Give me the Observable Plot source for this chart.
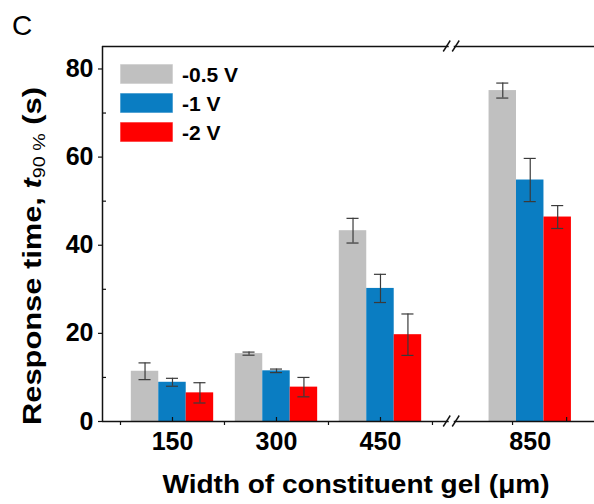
<!DOCTYPE html>
<html><head><meta charset="utf-8">
<script src="https://cdn.jsdelivr.net/npm/d3@7"></script>
<script src="https://cdn.jsdelivr.net/npm/@observablehq/plot@0.6"></script>
<style>body{margin:0;background:#fff}</style>
</head><body><div id="chart"></div>
<script>
// ---- data ----
const widths = ["150", "300", "450", "850"];
const series = ["-0.5 V", "-1 V", "-2 V"];
const colors = ["#c0c0c0", "#0a7dc2", "#ff0000"];
const mean05 = [11.4, 15.4, 43.3, 75.1];
const mean1  = [8.9, 11.5, 30.2, 54.8];
const mean2  = [6.5, 7.8, 19.7, 46.4];
const err05  = [1.9, 0.35, 2.8, 1.7];
const err1   = [0.9, 0.4, 3.2, 4.9];
const err2   = [2.3, 2.2, 4.7, 2.6];
const yTicks = [0, 20, 40, 60, 80];
const yMinor = [10, 30, 50, 70];

// ---- layout helpers ----
const GAP = 0.44, BW = 0.264, CAP = 0.058, BREAK = 2.69;
const YMAX = 85.1, XMIN = -0.673, XMAX = 4.058;
const pos = widths.map((w, i) => i < 3 ? i : i + GAP);
const majorX = [pos[0], pos[1], pos[2], pos[3] + 0.35];
const minorX = [pos[0] - 0.5, pos[0] + 0.5, pos[1] + 0.5, pos[2] + 0.5, pos[3] - 0.17];

const meansBy = [mean05, mean1, mean2];
const errsBy = [err05, err1, err2];
const rows = [];
widths.forEach((w, i) => series.forEach((s, j) => {
  const x1 = pos[i] + (j - 1.5) * BW;
  const m = meansBy[j][i], e = errsBy[j][i];
  rows.push({w, s, x1, x2: x1 + BW, xc: x1 + BW / 2, m, lo: m - e, hi: m + e});
}));

const FONT = "'Liberation Sans', Arial, sans-serif";

function breaks(index, scales) {
  const g = d3.create("svg:g");
  const bx = scales.x(BREAK);
  for (const y of [scales.y(0), scales.y(YMAX)]) {
    g.append("rect").attr("x", bx - 3).attr("y", y - 3).attr("width", 5).attr("height", 6).attr("fill", "white");
    for (const dx of [-5, 4]) {
      g.append("line")
        .attr("x1", bx + dx - 3.5).attr("y1", y + 5.5)
        .attr("x2", bx + dx + 3.5).attr("y2", y - 5.5)
        .attr("stroke", "#111").attr("stroke-width", 1.4);
    }
  }
  return g.node();
}

function legend() {
  const g = d3.create("svg:g").attr("text-anchor", "start");
  series.forEach((s, j) => {
    const y = 64 + j * 29;
    g.append("rect").attr("x", 120).attr("y", y).attr("width", 53).attr("height", 20)
      .attr("fill", colors[j]).attr("stroke", "rgba(255,255,255,0.6)").attr("stroke-width", 1);
    g.append("text").attr("x", 182).attr("y", y + 17.5).attr("font-size", 21)
      .attr("font-weight", "bold").attr("font-family", FONT).attr("fill", "#000").text(s);
  });
  return g.node();
}

function labels() {
  const g = d3.create("svg:g").attr("font-family", FONT).attr("fill", "#000");
  g.append("text").attr("x", 12).attr("y", 35).attr("font-size", 28).attr("text-anchor", "start").text("C");
  g.append("text").attr("x", 356).attr("y", 493).attr("font-size", 25).attr("font-weight", "bold")
    .attr("text-anchor", "middle").attr("textLength", 387).attr("lengthAdjust", "spacingAndGlyphs")
    .text("Width of constituent gel (μm)");
  const t = g.append("text").attr("transform", "translate(41,256) rotate(-90)")
    .attr("font-size", 25).attr("font-weight", "bold").attr("text-anchor", "middle")
    .attr("textLength", 338).attr("lengthAdjust", "spacingAndGlyphs");
  t.append("tspan").text("Response time, ");
  t.append("tspan").attr("font-style", "italic").text("t");
  t.append("tspan").attr("font-size", 16).attr("font-weight", "normal").attr("dy", 4).text("90 %");
  t.append("tspan").attr("dy", -4).text(" (s)");
  return g.node();
}

const chart = Plot.plot({
  width: 594, height: 504,
  marginLeft: 102, marginRight: 0, marginTop: 46, marginBottom: 83,
  style: {fontFamily: FONT, background: "white", color: "#000"},
  x: {domain: [XMIN, XMAX], axis: null},
  y: {domain: [0, YMAX], axis: null},
  color: {domain: series, range: colors},
  marks: [
    Plot.rectX(rows, {x1: "x1", x2: "x2", y1: 0, y2: "m", fill: "s"}),
    Plot.ruleX(rows, {x: "xc", y1: "lo", y2: "hi", stroke: "#3a3a3a", strokeWidth: 1.2}),
    Plot.ruleY(rows, {y: "hi", x1: d => d.xc - CAP, x2: d => d.xc + CAP, stroke: "#3a3a3a", strokeWidth: 1.2}),
    Plot.ruleY(rows, {y: "lo", x1: d => d.xc - CAP, x2: d => d.xc + CAP, stroke: "#3a3a3a", strokeWidth: 1.2}),
    Plot.ruleY([0], {stroke: "#111", strokeWidth: 1.5}),
    Plot.ruleY([YMAX], {stroke: "#111", strokeWidth: 1.5}),
    Plot.ruleX([XMIN], {stroke: "#111", strokeWidth: 1.5}),
    Plot.axisY({ticks: yTicks, tickSize: 4, tickPadding: 5, fontSize: 25, fontWeight: "bold", label: null, stroke: "#111", strokeWidth: 1.2}),
    Plot.axisY({ticks: yMinor, tickSize: 4, dx: 4, tickFormat: () => "", label: null, stroke: "#111", strokeWidth: 1.2}),
    Plot.axisX({ticks: majorX, tickSize: 4, dy: -4, tickFormat: () => "", label: null, stroke: "#111", strokeWidth: 1.2}),
    Plot.axisX({ticks: minorX, tickSize: 4, tickFormat: () => "", label: null, stroke: "#111", strokeWidth: 1.2}),
    Plot.text(widths, {x: (d, i) => pos[i], text: d => d, frameAnchor: "bottom", dy: 28, fontSize: 25, fontWeight: "bold", fill: "#000"}),
    breaks,
    legend,
    labels
  ]
});
document.getElementById("chart").append(chart);
</script>
</body></html>
